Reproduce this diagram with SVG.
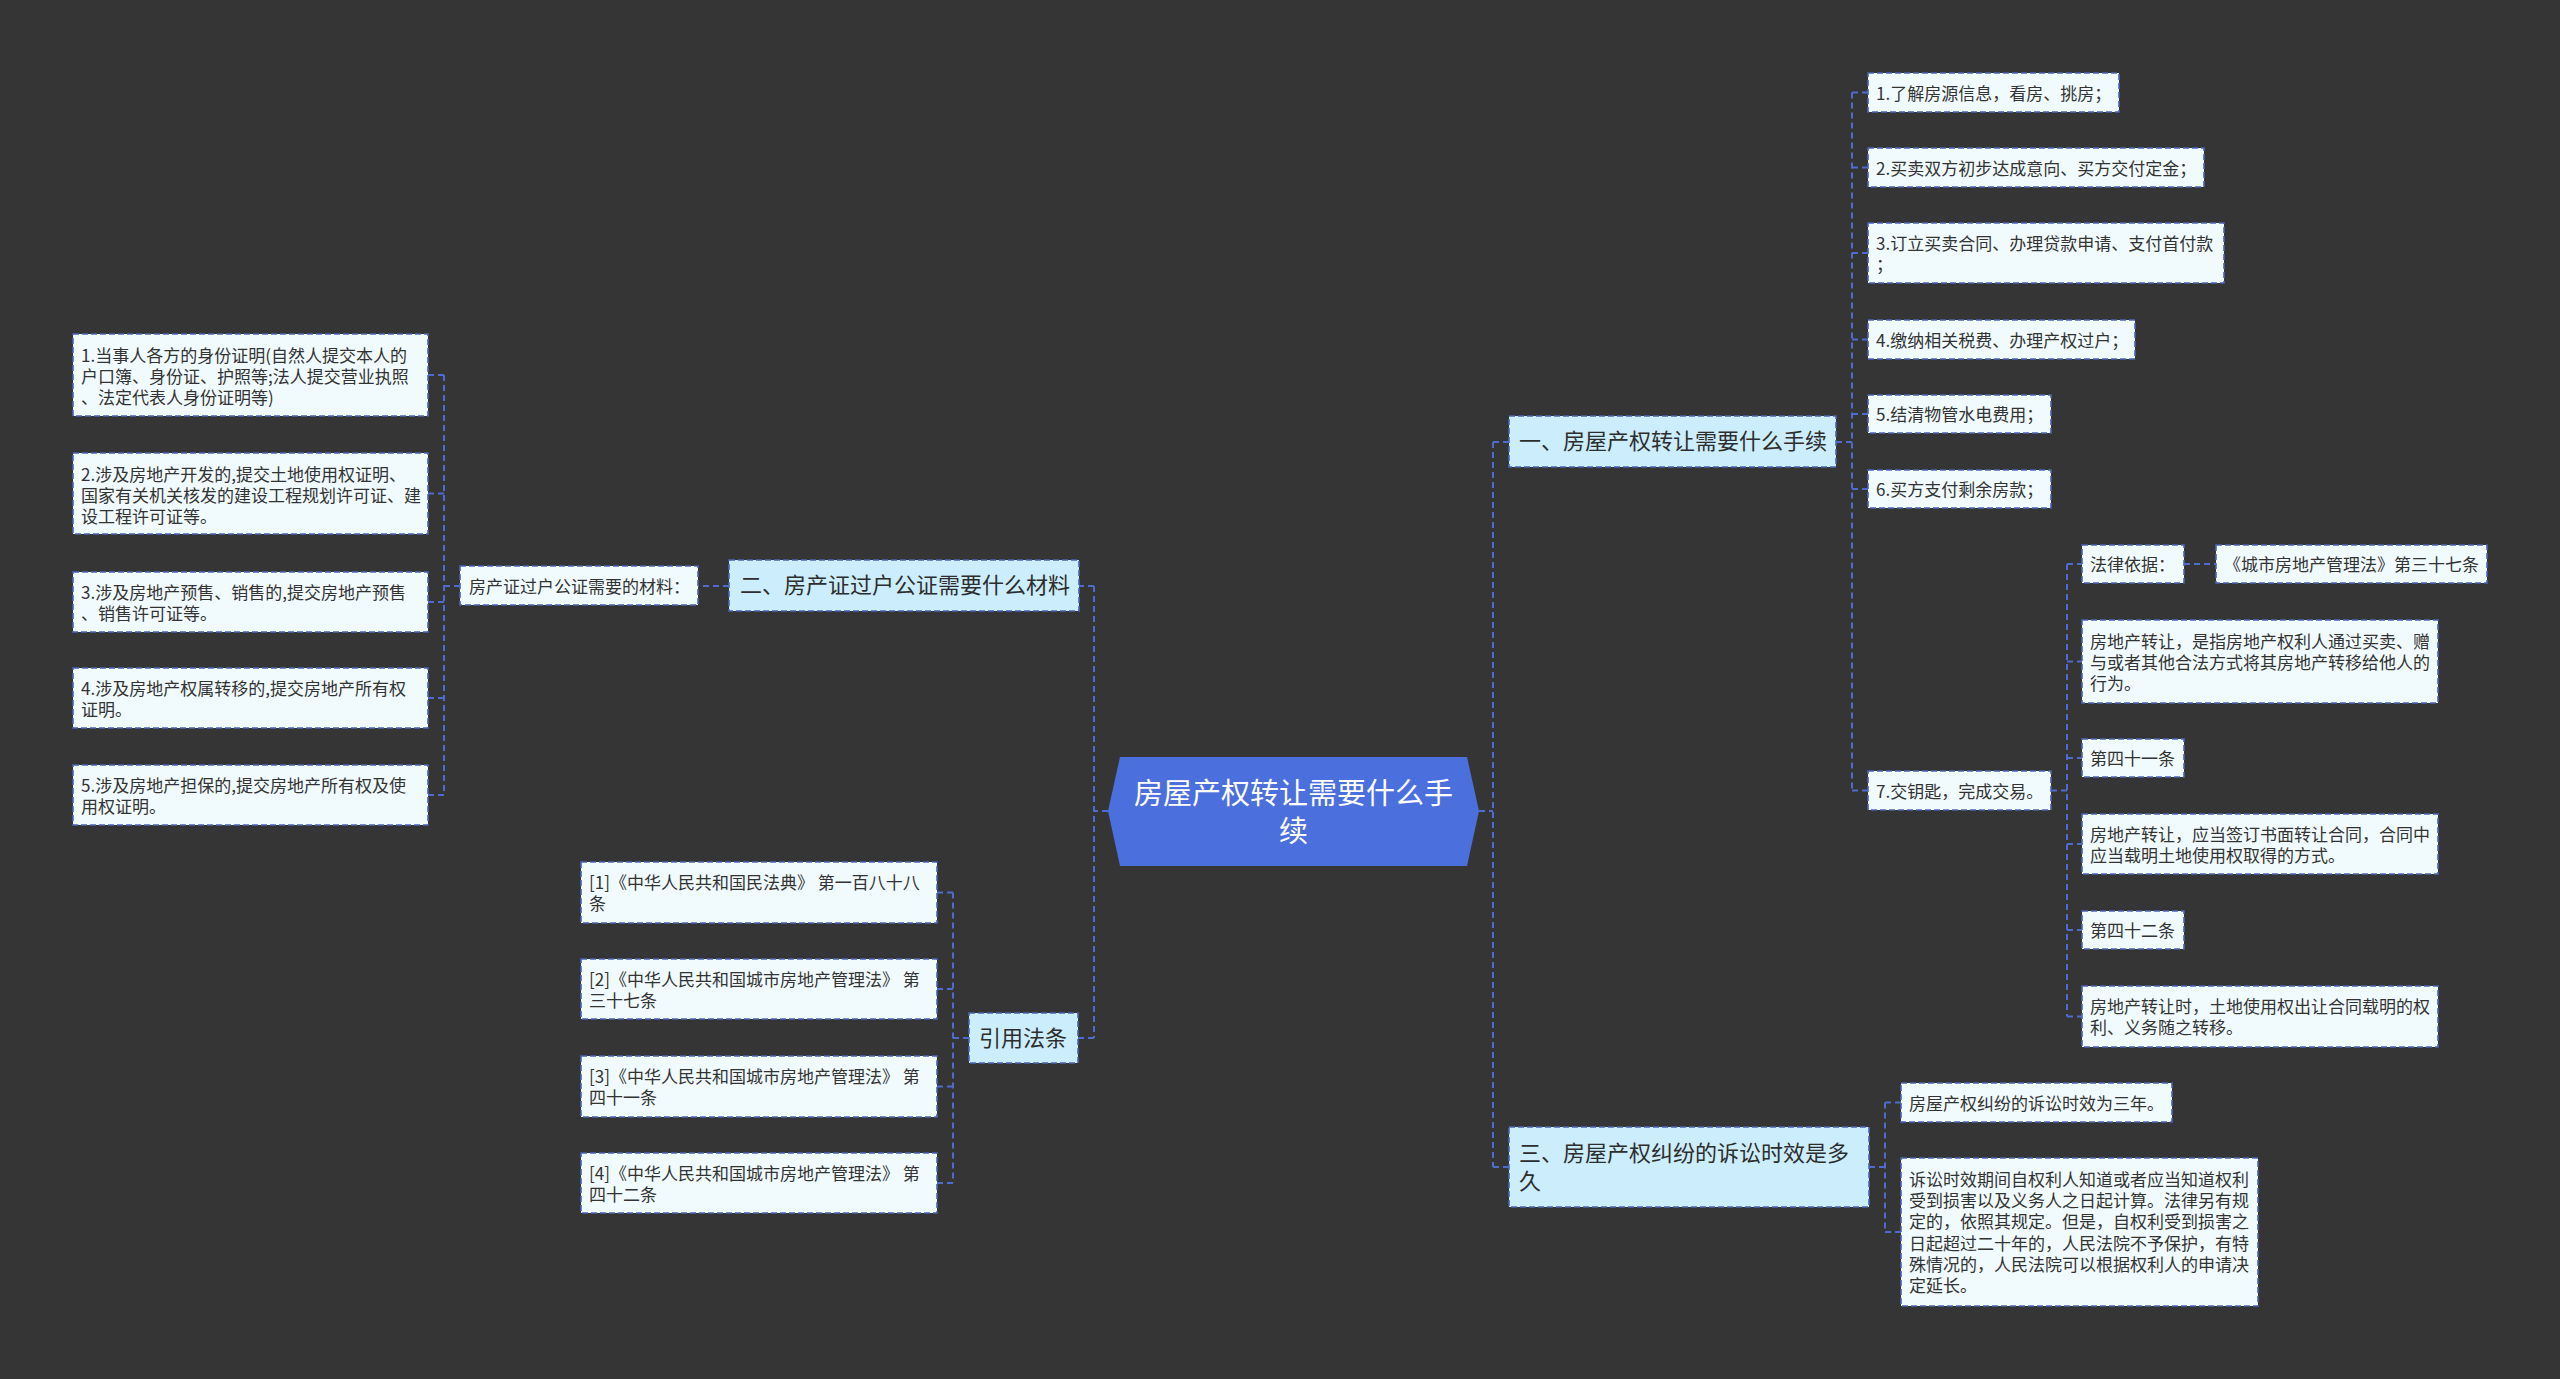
<svg xmlns="http://www.w3.org/2000/svg" width="2560" height="1379" viewBox="0 0 2560 1379">
<style>
.bg{fill:#363536}
.conn{fill:none;stroke:#4f6bd0;stroke-width:2;stroke-dasharray:6 4}
.b1{fill:#ccedfc;stroke:#4a64b8;stroke-width:1.6;stroke-dasharray:6 3}
.b2{fill:#f1fbfe;stroke:#4a64b8;stroke-width:1.6;stroke-dasharray:6 3}
.t1{font-family:"Noto Sans CJK SC","Microsoft YaHei",sans-serif;font-size:22px;fill:#2d2d2d;dominant-baseline:central}
.t2{font-family:"Noto Sans CJK SC","Microsoft YaHei",sans-serif;font-size:17px;fill:#333333;dominant-baseline:central}
.t0{font-family:"Noto Sans CJK SC","Microsoft YaHei",sans-serif;font-size:29px;fill:#ffffff;dominant-baseline:central;text-anchor:middle}
</style>
<rect class="bg" x="0" y="0" width="2560" height="1379"/>

<g id="connectors">
  <path class="conn" d="M1479,811 H1493"/>
  <path class="conn" d="M1493,442 V1167"/>
  <path class="conn" d="M1493,442 H1509 M1493,1167 H1509"/>
  <path class="conn" d="M1108,811 H1094"/>
  <path class="conn" d="M1094,586 V1038"/>
  <path class="conn" d="M1094,586 H1079 M1094,1038 H1078"/>
  <path class="conn" d="M1836,442 H1852"/>
  <path class="conn" d="M1852,92.5 V790.5"/>
  <path class="conn" d="M1852,92.5 H1868 M1852,167.5 H1868 M1852,253 H1868 M1852,339.5 H1868 M1852,414 H1868 M1852,489 H1868 M1852,790.5 H1868"/>
  <path class="conn" d="M2051,790.5 H2067"/>
  <path class="conn" d="M2067,564 V1016.5"/>
  <path class="conn" d="M2067,564 H2082 M2067,661.5 H2082 M2067,758 H2082 M2067,844 H2082 M2067,930 H2082 M2067,1016.5 H2082"/>
  <path class="conn" d="M2184,564 H2216"/>
  <path class="conn" d="M1869,1167 H1885"/>
  <path class="conn" d="M1885,1102.5 V1232"/>
  <path class="conn" d="M1885,1102.5 H1901 M1885,1232 H1901"/>
  <path class="conn" d="M729,586 H698"/>
  <path class="conn" d="M460,586 H444"/>
  <path class="conn" d="M444,375 V795"/>
  <path class="conn" d="M444,375 H428 M444,493.5 H428 M444,602 H428 M444,698 H428 M444,795 H428"/>
  <path class="conn" d="M969,1038 H953"/>
  <path class="conn" d="M953,892.5 V1183"/>
  <path class="conn" d="M953,892.5 H937 M953,989 H937 M953,1086.5 H937 M953,1183 H937"/>
</g>

<g id="center">
  <polygon points="1108,811 1120,757 1467,757 1479,811 1467,866 1120,866" fill="#4c6fde"/>
  <text class="t0" x="1293.5" y="791">房屋产权转让需要什么手</text>
  <text class="t0" x="1293.5" y="829">续</text>
</g>

<g id="n-yi">
  <rect class="b1" x="1509" y="416" width="327" height="51"/>
  <text class="t1" x="1519" y="439">一、房屋产权转让需要什么手续</text>
</g>
<g id="n-er">
  <rect class="b1" x="729" y="560" width="350" height="51"/>
  <text class="t1" x="740" y="583">二、房产证过户公证需要什么材料</text>
</g>
<g id="n-yinyong">
  <rect class="b1" x="969" y="1013" width="109" height="50"/>
  <text class="t1" x="979" y="1035.5">引用法条</text>
</g>
<g id="n-san">
  <rect class="b1" x="1509" y="1127" width="360" height="80"/>
  <text class="t1" x="1519" y="1151">三、房屋产权纠纷的诉讼时效是多</text>
  <text class="t1" x="1519" y="1179">久</text>
</g>

<g id="r1"><rect class="b2" x="1868" y="73" width="251" height="39"/><text class="t2" x="1876" y="92">1.了解房源信息，看房、挑房；</text></g>
<g id="r2"><rect class="b2" x="1868" y="148" width="336" height="39"/><text class="t2" x="1876" y="167">2.买卖双方初步达成意向、买方交付定金；</text></g>
<g id="r3"><rect class="b2" x="1868" y="223" width="356" height="60"/><text class="t2" x="1876" y="242.5">3.订立买卖合同、办理贷款申请、支付首付款</text><text class="t2" x="1876" y="263.5">；</text></g>
<g id="r4"><rect class="b2" x="1868" y="320" width="267" height="39"/><text class="t2" x="1876" y="339">4.缴纳相关税费、办理产权过户；</text></g>
<g id="r5"><rect class="b2" x="1868" y="395" width="183" height="38"/><text class="t2" x="1876" y="413.5">5.结清物管水电费用；</text></g>
<g id="r6"><rect class="b2" x="1868" y="470" width="183" height="38"/><text class="t2" x="1876" y="488.5">6.买方支付剩余房款；</text></g>
<g id="r7"><rect class="b2" x="1868" y="771" width="183" height="39"/><text class="t2" x="1876" y="790">7.交钥匙，完成交易。</text></g>

<g id="s1"><rect class="b2" x="2082" y="545" width="102" height="38"/><text class="t2" x="2090" y="563.5">法律依据：</text></g>
<g id="s1b"><rect class="b2" x="2216" y="545" width="271" height="38"/><text class="t2" x="2224" y="563.5">《城市房地产管理法》第三十七条</text></g>
<g id="s2"><rect class="b2" x="2082" y="620" width="356" height="83"/>
  <text class="t2" x="2090" y="640.5">房地产转让，是指房地产权利人通过买卖、赠</text>
  <text class="t2" x="2090" y="661.5">与或者其他合法方式将其房地产转移给他人的</text>
  <text class="t2" x="2090" y="682.5">行为。</text></g>
<g id="s3"><rect class="b2" x="2082" y="739" width="102" height="38"/><text class="t2" x="2090" y="757.5">第四十一条</text></g>
<g id="s4"><rect class="b2" x="2082" y="814" width="356" height="60"/>
  <text class="t2" x="2090" y="833.5">房地产转让，应当签订书面转让合同，合同中</text>
  <text class="t2" x="2090" y="854.5">应当载明土地使用权取得的方式。</text></g>
<g id="s5"><rect class="b2" x="2082" y="911" width="102" height="38"/><text class="t2" x="2090" y="929.5">第四十二条</text></g>
<g id="s6"><rect class="b2" x="2082" y="986" width="356" height="61"/>
  <text class="t2" x="2090" y="1005.5">房地产转让时，土地使用权出让合同载明的权</text>
  <text class="t2" x="2090" y="1026.5">利、义务随之转移。</text></g>

<g id="t1n"><rect class="b2" x="1901" y="1083" width="271" height="39"/><text class="t2" x="1909" y="1102">房屋产权纠纷的诉讼时效为三年。</text></g>
<g id="t2n"><rect class="b2" x="1901" y="1158" width="357" height="148"/>
  <text class="t2" x="1909" y="1178.2">诉讼时效期间自权利人知道或者应当知道权利</text>
  <text class="t2" x="1909" y="1199.5">受到损害以及义务人之日起计算。法律另有规</text>
  <text class="t2" x="1909" y="1220.8">定的，依照其规定。但是，自权利受到损害之</text>
  <text class="t2" x="1909" y="1242.1">日起超过二十年的，人民法院不予保护，有特</text>
  <text class="t2" x="1909" y="1263.5">殊情况的，人民法院可以根据权利人的申请决</text>
  <text class="t2" x="1909" y="1284.8">定延长。</text></g>

<g id="m0"><rect class="b2" x="460" y="566" width="238" height="39"/><text class="t2" x="469" y="585">房产证过户公证需要的材料：</text></g>

<g id="l1"><rect class="b2" x="73" y="334" width="355" height="82"/>
  <text class="t2" x="81" y="354.2">1.当事人各方的身份证明(自然人提交本人的</text>
  <text class="t2" x="81" y="375.5">户口簿、身份证、护照等;法人提交营业执照</text>
  <text class="t2" x="81" y="396.8">、法定代表人身份证明等)</text></g>
<g id="l2"><rect class="b2" x="73" y="453" width="355" height="81"/>
  <text class="t2" x="81" y="473">2.涉及房地产开发的,提交土地使用权证明、</text>
  <text class="t2" x="81" y="494.3">国家有关机关核发的建设工程规划许可证、建</text>
  <text class="t2" x="81" y="515.5">设工程许可证等。</text></g>
<g id="l3"><rect class="b2" x="73" y="572" width="355" height="60"/>
  <text class="t2" x="81" y="591">3.涉及房地产预售、销售的,提交房地产预售</text>
  <text class="t2" x="81" y="612.3">、销售许可证等。</text></g>
<g id="l4"><rect class="b2" x="73" y="668" width="355" height="60"/>
  <text class="t2" x="81" y="687">4.涉及房地产权属转移的,提交房地产所有权</text>
  <text class="t2" x="81" y="708.3">证明。</text></g>
<g id="l5"><rect class="b2" x="73" y="765" width="355" height="60"/>
  <text class="t2" x="81" y="784">5.涉及房地产担保的,提交房地产所有权及使</text>
  <text class="t2" x="81" y="805.3">用权证明。</text></g>

<g id="c1"><rect class="b2" x="581" y="862" width="356" height="61"/>
  <text class="t2" x="589" y="881.5">[1]《中华人民共和国民法典》 第一百八十八</text>
  <text class="t2" x="589" y="902.8">条</text></g>
<g id="c2"><rect class="b2" x="581" y="959" width="356" height="60"/>
  <text class="t2" x="589" y="978">[2]《中华人民共和国城市房地产管理法》 第</text>
  <text class="t2" x="589" y="999.3">三十七条</text></g>
<g id="c3"><rect class="b2" x="581" y="1056" width="356" height="61"/>
  <text class="t2" x="589" y="1075.5">[3]《中华人民共和国城市房地产管理法》 第</text>
  <text class="t2" x="589" y="1096.8">四十一条</text></g>
<g id="c4"><rect class="b2" x="581" y="1153" width="356" height="60"/>
  <text class="t2" x="589" y="1172">[4]《中华人民共和国城市房地产管理法》 第</text>
  <text class="t2" x="589" y="1193.3">四十二条</text></g>
</svg>
